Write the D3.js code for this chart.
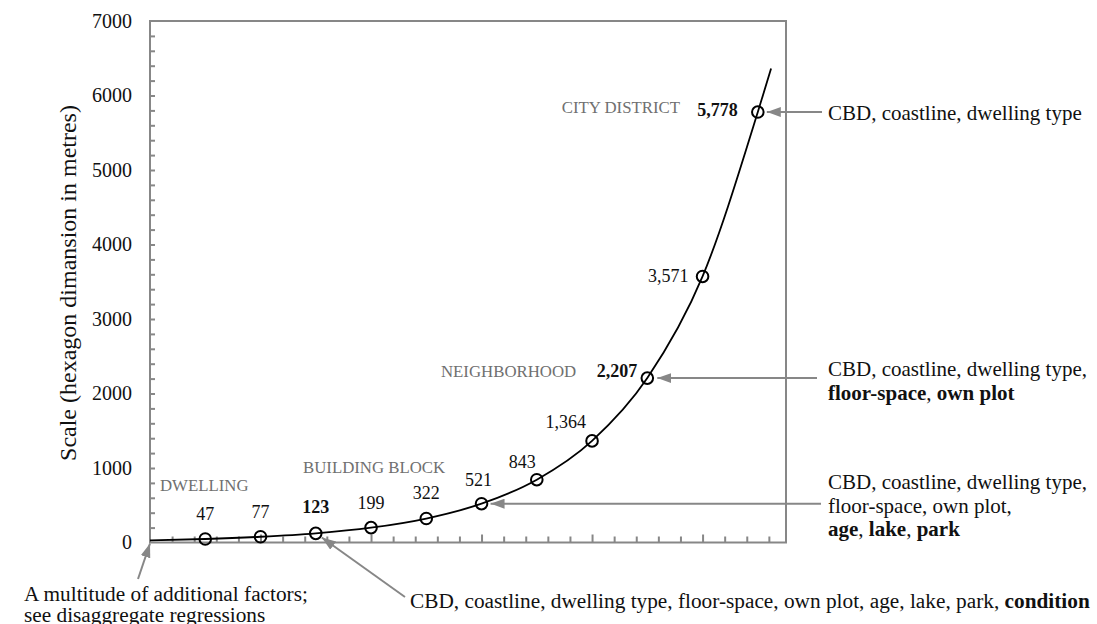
<!DOCTYPE html>
<html>
<head>
<meta charset="utf-8">
<script src="https://cdn.jsdelivr.net/npm/d3@7"></script>
<style>
  html, body { margin: 0; padding: 0; background: #fff; }
  svg { display: block; font-family: "Liberation Serif", "Times New Roman", serif; }
</style>
</head>
<body>
<div id="chart"></div>
<script>
// data
const stepIndex = [1, 2, 3, 4, 5, 6, 7, 8, 9, 10, 11];
const scaleValues = [47, 77, 123, 199, 322, 521, 843, 1364, 2207, 3571, 5778];
const boldValues = [123, 2207, 5778];
// fitted curve continues a little past both ends
const trendStart = [0, 29];
const trendEnd = [11.24, 6362];
const yTicks = [0, 1000, 2000, 3000, 4000, 5000, 6000, 7000];
const categories = ["DWELLING", "BUILDING BLOCK", "NEIGHBORHOOD", "CITY DISTRICT"];

const width = 1097, height = 624;
const margin = { top: 21, right: 311, bottom: 81.5, left: 150 };

const svg = d3.select("#chart").append("svg")
  .attr("width", width)
  .attr("height", height);

const x = d3.scaleLinear()
  .domain([0, 11.51])
  .range([margin.left, width - margin.right]);

const y = d3.scaleLinear()
  .domain([0, 7000])
  .range([height - margin.bottom, margin.top]);

const grey = "#878787";

// frame
svg.append("rect")
  .attr("x", x(0))
  .attr("y", y(7000))
  .attr("width", x(11.51) - x(0))
  .attr("height", y(0) - y(7000))
  .attr("fill", "none")
  .attr("stroke", grey)
  .attr("stroke-width", 2);

// y labels
svg.append("g")
  .attr("transform", "translate(" + x(0) + ",0)")
  .call(d3.axisLeft(y).tickValues(yTicks).tickSize(0).tickPadding(18).tickFormat(d3.format("d")))
  .call(g => g.select(".domain").remove())
  .selectAll("text")
  .attr("font-size", 20)
  .attr("font-family", "Liberation Serif")
  .attr("fill", "#111");

// inward minor ticks on y (every 200)
svg.append("g")
  .attr("transform", "translate(" + x(0) + ",0)")
  .call(d3.axisRight(y).tickValues(d3.range(200, 7000, 200)).tickSize(5).tickFormat(""))
  .call(g => g.select(".domain").remove())
  .selectAll("line").attr("stroke", grey).attr("stroke-width", 2);

// inward ticks on x (every 0.4 step, taller every 2 steps)
const xTickVals = d3.range(1, 29).map(k => k * 0.4);
svg.append("g")
  .attr("transform", "translate(0," + y(0) + ")")
  .call(d3.axisTop(x).tickValues(xTickVals).tickSize(6).tickFormat(""))
  .call(g => g.select(".domain").remove())
  .selectAll("line")
  .attr("stroke", grey)
  .attr("stroke-width", 2)
  .attr("y2", (d, i) => (i + 1) % 5 === 0 ? -8 : -6);

// y title
svg.append("text")
  .attr("transform", "translate(76," + 283 + ") rotate(-90)")
  .attr("text-anchor", "middle")
  .attr("font-size", 24)
  .attr("fill", "#111")
  .text("Scale (hexagon dimansion in metres)");

// curve
const points = stepIndex.map((s, i) => [s, scaleValues[i]]);
const line = d3.line()
  .x(d => x(d[0]))
  .y(d => y(d[1]))
  .curve(d3.curveMonotoneX);

svg.append("path")
  .datum([trendStart].concat(points, [trendEnd]))
  .attr("d", line)
  .attr("fill", "none")
  .attr("stroke", "#000")
  .attr("stroke-width", 1.8);

svg.append("g")
  .selectAll("circle")
  .data(points)
  .join("circle")
  .attr("cx", d => x(d[0]))
  .attr("cy", d => y(d[1]))
  .attr("r", 5.8)
  .attr("fill", "none")
  .attr("stroke", "#000")
  .attr("stroke-width", 2);

// value labels: small ones sit above, big ones to the left
const labelPlace = [
  [0, -19, "middle"], [0, -19, "middle"], [0, -20, "middle"], [0, -19, "middle"],
  [0, -20, "middle"], [-3, -18, "middle"], [-1, -12, "end"], [-6, -13, "end"],
  [-10, -1, "end"], [-14, 5.5, "end"], [-20, 3.5, "end"]
];
svg.append("g")
  .selectAll("text")
  .data(points)
  .join("text")
  .attr("x", (d, i) => x(d[0]) + labelPlace[i][0])
  .attr("y", (d, i) => y(d[1]) + labelPlace[i][1])
  .attr("text-anchor", (d, i) => labelPlace[i][2])
  .attr("font-size", 18)
  .attr("font-weight", d => boldValues.includes(d[1]) ? "bold" : "normal")
  .attr("fill", "#111")
  .text(d => d3.format(",")(d[1]));

// category names
const catPlace = [[160, 491, "start"], [303, 473, "start"], [441, 377, "start"], [680, 113, "end"]];
svg.append("g")
  .selectAll("text")
  .data(categories)
  .join("text")
  .attr("x", (d, i) => catPlace[i][0])
  .attr("y", (d, i) => catPlace[i][1])
  .attr("text-anchor", (d, i) => catPlace[i][2])
  .attr("font-size", 16.8)
  .attr("fill", "#707070")
  .text(d => d);

// arrows
svg.append("defs").append("marker")
  .attr("id", "head")
  .attr("viewBox", "0 0 14 10")
  .attr("refX", 14)
  .attr("refY", 5)
  .attr("markerWidth", 14)
  .attr("markerHeight", 10)
  .attr("markerUnits", "userSpaceOnUse")
  .attr("orient", "auto")
  .append("path")
  .attr("d", "M0,0 L14,5 L0,10 Z")
  .attr("fill", grey);

const arrows = [
  { from: [822, y(5778)], to: [x(11) + 9, y(5778)] },
  { from: [817, y(2207)], to: [x(9) + 10, y(2207)] },
  { from: [821, y(521)], to: [x(6) + 9, y(521)] },
  { from: [405, 597], to: [x(3) + 6, y(0) - 5] },
  { from: [138, 579], to: [x(0), y(0) + 1] }
];
svg.append("g")
  .selectAll("line")
  .data(arrows)
  .join("line")
  .attr("x1", d => d.from[0])
  .attr("y1", d => d.from[1])
  .attr("x2", d => d.to[0])
  .attr("y2", d => d.to[1])
  .attr("stroke", grey)
  .attr("stroke-width", 2)
  .attr("marker-end", "url(#head)");

// annotation text, each line a list of [text, bold]
const notes = [
  { x: 828, y: 120, size: 21, gap: 23.5, lines: [[["CBD, coastline, dwelling type", false]]] },
  { x: 828, y: 376, size: 21, gap: 23.5, lines: [
      [["CBD, coastline, dwelling type,", false]],
      [["floor-space", true], [", ", false], ["own plot", true]]
  ] },
  { x: 828, y: 489, size: 21, gap: 23.5, lines: [
      [["CBD, coastline, dwelling type,", false]],
      [["floor-space, own plot,", false]],
      [["age", true], [", ", false], ["lake", true], [", ", false], ["park", true]]
  ] },
  { x: 410, y: 608, size: 21.3, gap: 23.5, lines: [
      [["CBD, coastline, dwelling type, floor-space, own plot, age, lake, park, ", false], ["condition", true]]
  ] },
  { x: 24, y: 601, size: 21.3, gap: 20.5, lines: [
      [["A multitude of additional factors;", false]],
      [["see disaggregate regressions", false]]
  ] }
];
notes.forEach(n => {
  const t = svg.append("text")
    .attr("font-size", n.size)
    .attr("fill", "#111");
  n.lines.forEach((parts, li) => {
    parts.forEach((p, pi) => {
      const ts = t.append("tspan")
        .attr("font-weight", p[1] ? "bold" : "normal")
        .style("white-space", "pre")
        .text(p[0]);
      if (pi === 0) ts.attr("x", n.x).attr("y", n.y + li * n.gap);
    });
  });
});
</script>
</body>
</html>
